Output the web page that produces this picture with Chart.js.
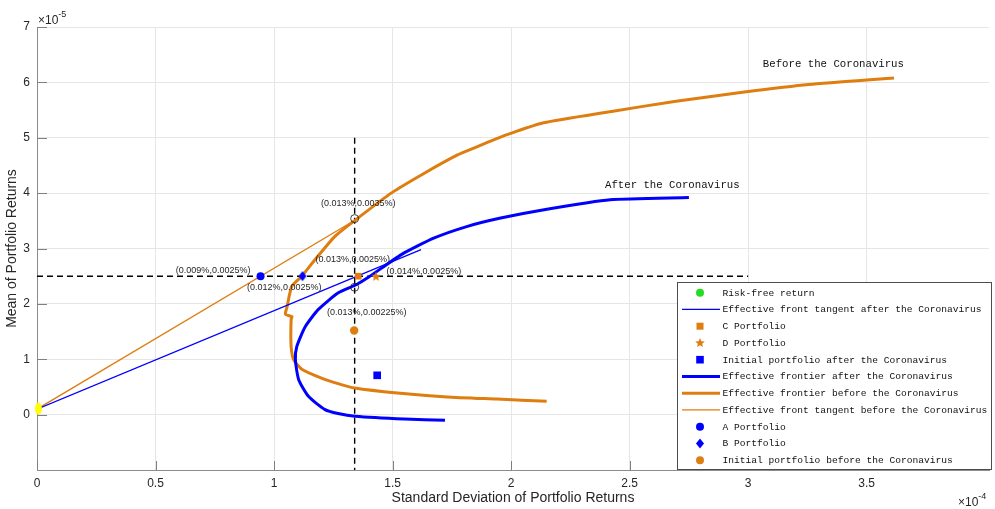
<!DOCTYPE html>
<html>
<head>
<meta charset="utf-8">
<script src="https://cdn.jsdelivr.net/npm/chart.js@4.4.0/dist/chart.umd.min.js"></script>
<style>
html,body{margin:0;padding:0;background:#ffffff;}
#wrap{width:995px;height:509px;}
canvas{display:block;}
</style>
</head>
<body>
<div id="wrap"><canvas id="c" width="995" height="509"></canvas></div>
<script>
// ---------- data (sd in 1e-4, mean in 1e-5) ----------
const xTickValues = [0, 0.5, 1, 1.5, 2, 2.5, 3, 3.5];
const yTickValues = [0, 1, 2, 3, 4, 5, 6, 7];

const frontierBeforeSd   = [2.15, 1.94, 1.73, 1.52, 1.34, 1.27, 1.20, 1.117, 1.083, 1.072, 1.072, 1.076, 1.048, 1.055, 1.075, 1.117, 1.173, 1.257, 1.351, 1.494, 1.634, 1.774, 1.858, 1.942, 1.998, 2.137, 2.417, 2.696, 2.976, 3.255, 3.615];
const frontierBeforeMean = [0.24, 0.28, 0.32, 0.39, 0.48, 0.56, 0.66, 0.82, 0.99, 1.23, 1.72, 1.77, 1.81, 1.95, 2.32, 2.50, 2.80, 3.22, 3.54, 4.00, 4.36, 4.69, 4.84, 4.99, 5.08, 5.27, 5.47, 5.66, 5.82, 5.96, 6.08];

const frontierAfterSd   = [1.721, 1.55, 1.341, 1.27, 1.215, 1.145, 1.104, 1.09, 1.096, 1.132, 1.187, 1.271, 1.348, 1.398, 1.537, 1.676, 1.816, 1.956, 2.151, 2.417, 2.75];
const frontierAfterMean = [-0.10, -0.08, -0.03, 0.02, 0.09, 0.33, 0.63, 0.99, 1.23, 1.59, 1.90, 2.20, 2.35, 2.48, 2.89, 3.19, 3.40, 3.55, 3.71, 3.88, 3.92];

const tangentBeforeSd   = [0, 1.36];
const tangentBeforeMean = [0.10, 3.56];
const tangentAfterSd    = [0, 1.62];
const tangentAfterMean  = [0.10, 2.98];

const riskFreeSd = [0.006];        const riskFreeMean = [0.11];
const portfolioASd = [0.943];      const portfolioAMean = [2.5];
const portfolioBSd = [1.12];       const portfolioBMean = [2.5];
const portfolioCSd = [1.355];      const portfolioCMean = [2.5];
const portfolioDSd = [1.43];       const portfolioDMean = [2.49];
const initialBeforeSd = [1.338];   const initialBeforeMean = [1.52];
const initialAfterSd = [1.435];    const initialAfterMean = [0.71];
const markedSd = [1.34, 1.34];     const markedMean = [3.54, 2.30];

const guideHSd = [0, 3.0];         const guideHMean = [2.5, 2.5];
const guideVSd = [1.34, 1.34];     const guideVMean = [5.0, -1];

const pointLabelTexts = ['(0.013%,0.0035%)', '(0.013%,0.0025%)', '(0.014%,0.0025%)', '(0.009%,0.0025%)', '(0.012%,0.0025%)', '(0.013%,0.00225%)'];
const pointLabelSd    = [1.355, 1.332, 1.632, 0.743, 1.043, 1.391];
const pointLabelMean  = [3.82, 2.80, 2.58, 2.60, 2.29, 1.84];

const curveLabelTexts = ['Before the Coronavirus', 'After the Coronavirus'];
const curveLabelSd    = [3.062, 2.396];
const curveLabelMean  = [6.32, 4.15];

const xAxisTitle = 'Standard Deviation of Portfolio Returns';
const yAxisTitle = 'Mean of Portfolio Returns';

// ---------- styles ----------
const BLUE = '#0000ff';
const ORANGE = '#de7d10';
const GREEN = '#22dd22';
const YELLOW = '#ffff00';
const TEXT = '#262626';
const MONO = '"Liberation Mono", "DejaVu Sans Mono", monospace';
const SANS = '"Liberation Sans", Arial, sans-serif';

function pts(xs, ys) { return xs.map((x, i) => ({ x: x, y: ys[i] })); }

function makeStar(color, r) {
  const s = Math.ceil(r * 2 + 2);
  const c = document.createElement('canvas'); c.width = s; c.height = s;
  const g = c.getContext('2d'); g.fillStyle = color; g.beginPath();
  for (let i = 0; i < 10; i++) {
    const a = -Math.PI / 2 + i * Math.PI / 5;
    const rr = (i % 2) ? r * 0.45 : r;
    g.lineTo(s / 2 + rr * Math.cos(a), s / 2 + rr * Math.sin(a));
  }
  g.closePath(); g.fill();
  return c;
}
function makeEllipse(color, w, h) {
  const c = document.createElement('canvas'); c.width = w + 2; c.height = h + 2;
  const g = c.getContext('2d'); g.fillStyle = color; g.beginPath();
  g.ellipse((w + 2) / 2, (h + 2) / 2, w / 2, h / 2, 0, 0, Math.PI * 2); g.fill();
  return c;
}
function makeDiamond(color, w, h) {
  const c = document.createElement('canvas'); c.width = w + 2; c.height = h + 2;
  const g = c.getContext('2d'); g.fillStyle = color; g.beginPath();
  const cx = (w + 2) / 2, cy = (h + 2) / 2;
  g.moveTo(cx, cy - h / 2); g.lineTo(cx + w / 2, cy); g.lineTo(cx, cy + h / 2); g.lineTo(cx - w / 2, cy);
  g.closePath(); g.fill();
  return c;
}
const starImg = makeStar(ORANGE, 5);
const ellipseImg = makeEllipse(YELLOW, 7, 12);
const diamondImg = makeDiamond(BLUE, 8, 10);

function lineDs(label, xs, ys, color, width, order, legend, extra) {
  return Object.assign({
    label: label, data: pts(xs, ys), showLine: true, borderColor: color, backgroundColor: color,
    borderWidth: width, pointRadius: 0, tension: 0, order: order, legendKind: legend ? 'line' : null
  }, extra || {});
}
function markerDs(label, xs, ys, style, color, radius, order, legendMarker) {
  return {
    label: label, data: pts(xs, ys), showLine: false, pointStyle: style, pointRadius: radius,
    pointBackgroundColor: color, pointBorderColor: color, pointBorderWidth: 0, order: order,
    clip: false, legendKind: legendMarker ? 'point' : null, legendMarker: legendMarker
  };
}

const datasets = [
  markerDs('Risk-free return', riskFreeSd, riskFreeMean, ellipseImg, YELLOW, 6, 0, { shape: 'circle', color: GREEN, r: 4 }),
  lineDs('Effective front tangent after the Coronavirus', tangentAfterSd, tangentAfterMean, BLUE, 1.3, 4, true),
  markerDs('C Portfolio', portfolioCSd, portfolioCMean, 'rect', ORANGE, 4.7, 0, { shape: 'square', color: ORANGE, r: 3.5 }),
  markerDs('D Portfolio', portfolioDSd, portfolioDMean, starImg, ORANGE, 5, 0, { shape: 'star', color: ORANGE, r: 5 }),
  markerDs('Initial portfolio after the Coronavirus', initialAfterSd, initialAfterMean, 'rect', BLUE, 5.4, 0, { shape: 'square', color: BLUE, r: 3.8 }),
  lineDs('Effective frontier after the Coronavirus', frontierAfterSd, frontierAfterMean, BLUE, 3, 5, true, { tension: 0.2 }),
  lineDs('Effective frontier before the Coronavirus', frontierBeforeSd, frontierBeforeMean, ORANGE, 3, 5, true, { tension: 0.2 }),
  lineDs('Effective front tangent before the Coronavirus', tangentBeforeSd, tangentBeforeMean, ORANGE, 1.3, 4, true),
  markerDs('A Portfolio', portfolioASd, portfolioAMean, 'circle', BLUE, 4, 0, { shape: 'circle', color: BLUE, r: 4 }),
  markerDs('B Portfolio', portfolioBSd, portfolioBMean, diamondImg, BLUE, 5, 0, { shape: 'diamond', color: BLUE, r: 5 }),
  markerDs('Initial portfolio before the Coronavirus', initialBeforeSd, initialBeforeMean, 'circle', ORANGE, 4.2, 0, { shape: 'circle', color: ORANGE, r: 4 }),
  // helpers not in legend
  {
    label: 'marked points', data: pts(markedSd, markedMean), showLine: false, pointStyle: 'circle', pointRadius: 4,
    pointBackgroundColor: 'rgba(0,0,0,0)', pointBorderColor: '#111', pointBorderWidth: 0.8, order: 1, legendKind: null
  },
  lineDs('guide horizontal', guideHSd, guideHMean, '#000', 1.4, 9, false, { borderDash: [6, 4] }),
  lineDs('guide vertical', guideVSd, guideVMean, '#000', 1.4, 9, false, { borderDash: [6, 4] })
];

function drawLegendMarker(ctx, m, x, y) {
  ctx.save(); ctx.fillStyle = m.color; ctx.beginPath();
  if (m.shape === 'circle') { ctx.arc(x, y, m.r, 0, Math.PI * 2); }
  else if (m.shape === 'square') { ctx.rect(x - m.r, y - m.r, 2 * m.r, 2 * m.r); }
  else if (m.shape === 'diamond') { ctx.moveTo(x, y - m.r); ctx.lineTo(x + m.r * 0.8, y); ctx.lineTo(x, y + m.r); ctx.lineTo(x - m.r * 0.8, y); ctx.closePath(); }
  else if (m.shape === 'star') {
    for (let i = 0; i < 10; i++) {
      const a = -Math.PI / 2 + i * Math.PI / 5; const rr = (i % 2) ? m.r * 0.45 : m.r;
      ctx.lineTo(x + rr * Math.cos(a), y + rr * Math.sin(a));
    }
    ctx.closePath();
  }
  ctx.fill(); ctx.restore();
}

const decorPlugin = {
  id: 'decor',
  afterDraw(chart) {
    const ctx = chart.ctx;
    const xs = chart.scales.x, ys = chart.scales.y;
    const area = chart.chartArea;
    ctx.save();
    // inner tick marks
    ctx.strokeStyle = '#7f7f7f'; ctx.lineWidth = 1;
    xTickValues.forEach(v => {
      const px = Math.round(xs.getPixelForValue(v)) + 0.5;
      ctx.beginPath(); ctx.moveTo(px, area.bottom); ctx.lineTo(px, area.bottom - 9); ctx.stroke();
    });
    yTickValues.forEach(v => {
      const py = Math.round(ys.getPixelForValue(v)) + 0.5;
      ctx.beginPath(); ctx.moveTo(area.left, py); ctx.lineTo(area.left + 10, py); ctx.stroke();
    });
    // point labels
    ctx.fillStyle = '#262626'; ctx.font = '9px ' + SANS; ctx.textAlign = 'center'; ctx.textBaseline = 'middle';
    pointLabelTexts.forEach((t, i) => {
      ctx.fillText(t, xs.getPixelForValue(pointLabelSd[i]), ys.getPixelForValue(pointLabelMean[i]));
    });
    // curve labels
    ctx.fillStyle = '#111111'; ctx.font = '10.7px ' + MONO; ctx.textAlign = 'left';
    curveLabelTexts.forEach((t, i) => {
      ctx.fillText(t, xs.getPixelForValue(curveLabelSd[i]), ys.getPixelForValue(curveLabelMean[i]));
    });
    // exponent labels
    ctx.fillStyle = TEXT; ctx.textBaseline = 'alphabetic'; ctx.textAlign = 'left';
    ctx.font = '12px ' + SANS;
    ctx.fillText('\u00d710', area.left + 1, 24);
    let w = ctx.measureText('\u00d710').width;
    ctx.font = '9px ' + SANS; ctx.fillText('-5', area.left + 1 + w, 17);
    ctx.font = '12px ' + SANS;
    ctx.fillText('\u00d710', 958, 506);
    w = ctx.measureText('\u00d710').width;
    ctx.font = '9px ' + SANS; ctx.fillText('-4', 958 + w, 499);
    // legend box
    const bx = 677.5, by = 282.5, bw = 314, bh = 187;
    ctx.fillStyle = '#ffffff'; ctx.fillRect(bx, by, bw, bh);
    ctx.strokeStyle = '#4d4d4d'; ctx.lineWidth = 1; ctx.strokeRect(bx, by, bw, bh);
    const items = chart.data.datasets.filter(d => d.legendKind);
    ctx.font = '9.6px ' + MONO; ctx.textBaseline = 'middle'; ctx.textAlign = 'left';
    items.forEach((d, i) => {
      const y = 292.7 + i * 16.75;
      if (d.legendKind === 'line') {
        ctx.save(); ctx.strokeStyle = d.borderColor; ctx.lineWidth = d.borderWidth;
        ctx.beginPath(); ctx.moveTo(682, y); ctx.lineTo(720, y); ctx.stroke(); ctx.restore();
      } else {
        drawLegendMarker(ctx, d.legendMarker, 700, y);
      }
      ctx.fillStyle = '#111111';
      ctx.fillText(d.label, 722.5, y + 0.5);
    });
    ctx.restore();
  }
};

new Chart(document.getElementById('c'), {
  type: 'scatter',
  data: { datasets: datasets },
  options: {
    responsive: false,
    devicePixelRatio: 1,
    animation: false,
    events: [],
    layout: { padding: { top: 27, right: 0, left: 0, bottom: 0 } },
    plugins: { legend: { display: false }, tooltip: { enabled: false } },
    scales: {
      x: {
        type: 'linear', min: 0, max: 4.016,
        afterBuildTicks: s => { s.ticks = xTickValues.map(v => ({ value: v })); },
        afterFit: s => { s.height = 39; s.paddingLeft = 0; s.paddingRight = 0; },
        ticks: { padding: 6, color: TEXT, font: { family: SANS, size: 12 }, callback: v => String(v) },
        grid: { color: '#e6e6e6', drawTicks: false, lineWidth: 1 },
        border: { display: true, color: '#8c8c8c', width: 1 },
        title: { display: true, text: xAxisTitle, color: TEXT, font: { family: SANS, size: 14 }, padding: { top: 0, bottom: 2 } }
      },
      y: {
        type: 'linear', min: -1, max: 7,
        afterBuildTicks: s => { s.ticks = yTickValues.map(v => ({ value: v })); },
        afterFit: s => { s.width = 37; s.paddingTop = 0; s.paddingBottom = 0; },
        ticks: { padding: 7, color: TEXT, font: { family: SANS, size: 12 }, callback: v => String(v) },
        grid: { color: '#e6e6e6', drawTicks: false, lineWidth: 1 },
        border: { display: true, color: '#8c8c8c', width: 1 },
        title: { display: true, text: yAxisTitle, color: TEXT, font: { family: SANS, size: 14 }, padding: { top: 4, bottom: 0 } }
      }
    }
  },
  plugins: [decorPlugin]
});
</script>
</body>
</html>
